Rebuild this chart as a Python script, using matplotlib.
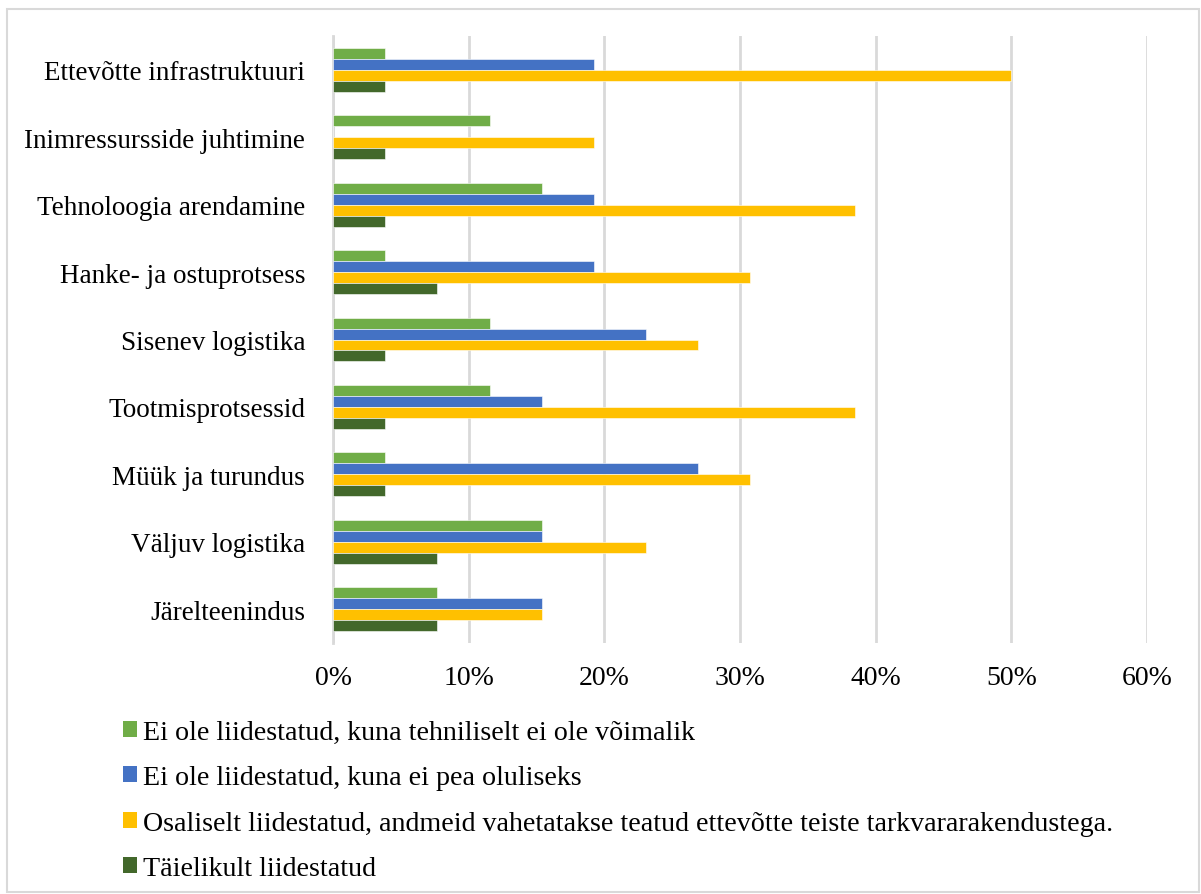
import numpy as np
import matplotlib.pyplot as plt
from matplotlib.patches import Rectangle, Patch

plt.rcParams['font.family'] = ['Liberation Serif', 'DejaVu Serif']

categories = ['Ettevõtte infrastruktuuri', 'Inimressursside juhtimine', 'Tehnoloogia arendamine',
              'Hanke- ja ostuprotsess', 'Sisenev logistika', 'Tootmisprotsessid',
              'Müük ja turundus', 'Väljuv logistika', 'Järelteenindus']

# shares in %, top category first
tehniliselt = [3.85, 11.54, 15.38, 3.85, 11.54, 11.54, 3.85, 15.38, 7.69]
ei_oluline = [19.23, 0, 19.23, 19.23, 23.08, 15.38, 26.92, 15.38, 15.38]
osaliselt = [50.0, 19.23, 38.46, 30.77, 26.92, 38.46, 30.77, 23.08, 15.38]
taielikult = [3.85, 3.85, 3.85, 7.69, 3.85, 3.85, 3.85, 7.69, 7.69]

labels = ['Ei ole liidestatud, kuna tehniliselt ei ole võimalik',
          'Ei ole liidestatud, kuna ei pea oluliseks',
          'Osaliselt liidestatud, andmeid vahetatakse teatud ettevõtte teiste tarkvararakendustega.',
          'Täielikult liidestatud']
colors = ['#70AD47', '#4472C4', '#FFC000', '#43682B']

fig = plt.figure(figsize=(12.01, 8.95), dpi=100)
ax = fig.add_axes([333/1201, 1 - 644/895, (1147 - 333)/1201, (644 - 37)/895])

y = np.arange(len(categories))
h = 0.163
offsets = [-1.5 * h, -0.5 * h, 0.5 * h, 1.5 * h]
for vals, off, c in zip([tehniliselt, ei_oluline, osaliselt, taielikult], offsets, colors):
    ax.barh(y + off, vals, height=h, color=c, edgecolor='white', linewidth=0.4, zorder=3)

ax.set_ylim(len(categories) - 0.5, -0.5)
ax.set_xlim(0, 60)
ax.set_xticks(np.arange(0, 61, 10))
ax.set_xticklabels([f'{v}%' for v in range(0, 61, 10)])
ax.set_yticks(y)
ax.set_yticklabels(categories)
ax.tick_params(axis='both', length=0)
ax.tick_params(axis='x', pad=16, labelsize=20)
ax.tick_params(axis='y', pad=20, labelsize=19.5)
ax.grid(axis='x', color='#D9D9D9', linewidth=2, zorder=0)
for s in ['top', 'right', 'bottom']:
    ax.spines[s].set_visible(False)
ax.spines['left'].set_color('#D9D9D9')
ax.spines['left'].set_linewidth(2)

handles = [Patch(facecolor=c, edgecolor='none') for c in colors]
fig.legend(handles, labels, loc='upper left', bbox_to_anchor=(112/1201, 1 - 710/895),
           frameon=False, fontsize=20.2, handlelength=0.5, handleheight=0.5,
           handletextpad=0.2, labelspacing=0.72, borderaxespad=0)

fig.patches.append(Rectangle((7/1201, 2/895), 1192/1201, 883/895, transform=fig.transFigure,
                             fill=False, edgecolor='#D9D9D9', linewidth=1.5))

fig.savefig('out.png', dpi=100)
